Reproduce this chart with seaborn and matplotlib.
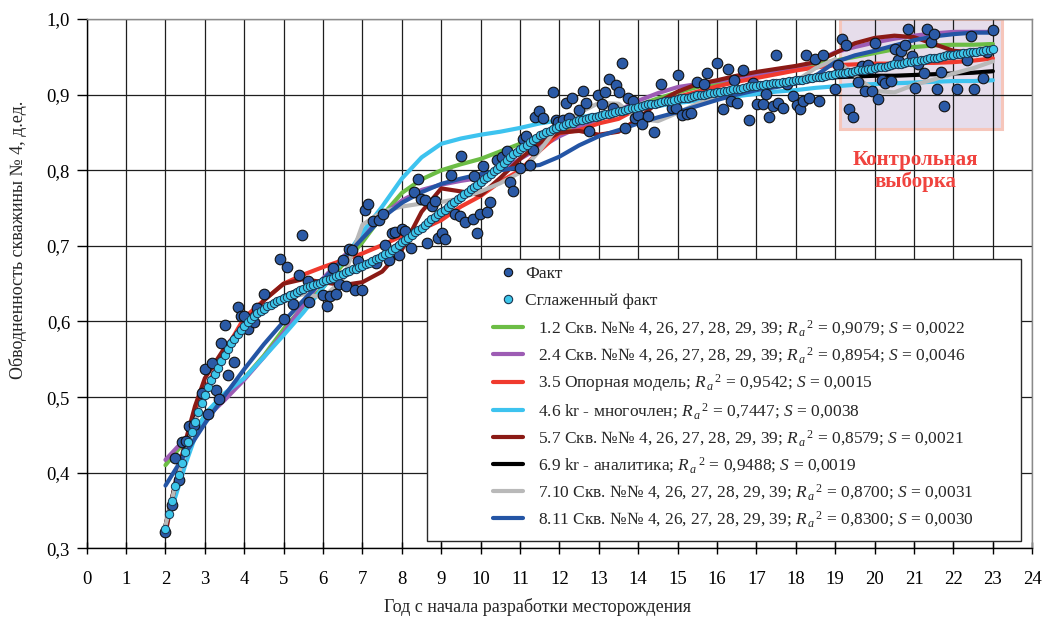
import matplotlib
matplotlib.use("Agg")
import matplotlib.pyplot as plt
from matplotlib.patches import Rectangle
from matplotlib.lines import Line2D
import seaborn as sns

# ---------------- data ----------------
# Measured (monthly) water cut, years since start of field development
fact_year = [
    2.00, 2.17, 2.24, 2.34, 2.42, 2.51, 2.59, 2.72, 2.93, 3.00, 3.08, 3.17, 3.27, 3.35, 3.41,
    3.50, 3.58, 3.75, 3.83, 3.92, 4.00, 4.10, 4.25, 4.33, 4.50, 4.91, 5.00, 5.08, 5.24, 5.40,
    5.47, 5.61, 5.65, 6.00, 6.09, 6.17, 6.25, 6.33, 6.41, 6.50, 6.58, 6.65, 6.74, 6.81, 6.89,
    6.98, 7.06, 7.15, 7.26, 7.34, 7.42, 7.51, 7.58, 7.67, 7.74, 7.82, 7.92, 8.00, 8.08, 8.24,
    8.31, 8.41, 8.49, 8.58, 8.65, 8.77, 8.84, 8.91, 9.01, 9.09, 9.25, 9.34, 9.47, 9.50, 9.59,
    9.80, 9.83, 9.90, 9.98, 10.07, 10.15, 10.24, 10.42, 10.53, 10.66, 10.74, 10.83, 11.00, 11.07, 11.15,
    11.25, 11.34, 11.38, 11.49, 11.57, 11.84, 11.90, 11.97, 12.08, 12.17, 12.25, 12.33, 12.50, 12.59, 12.67,
    12.75, 12.98, 13.07, 13.16, 13.26, 13.35, 13.43, 13.52, 13.58, 13.66, 13.75, 13.86, 13.92, 14.00, 14.09,
    14.25, 14.41, 14.58, 14.85, 14.96, 15.00, 15.10, 15.23, 15.33, 15.48, 15.67, 15.74, 15.99, 16.14, 16.27,
    16.35, 16.43, 16.50, 16.67, 16.81, 16.92, 17.02, 17.17, 17.24, 17.33, 17.43, 17.50, 17.55, 17.67, 17.77,
    17.93, 18.02, 18.10, 18.17, 18.26, 18.34, 18.48, 18.59, 18.68, 18.99, 19.08, 19.16, 19.27, 19.36, 19.44,
    19.58, 19.67, 19.75, 19.84, 19.92, 20.01, 20.09, 20.18, 20.26, 20.41, 20.51, 20.58, 20.66, 20.77, 20.85,
    20.94, 21.02, 21.11, 21.25, 21.32, 21.42, 21.50, 21.59, 21.68, 21.76, 22.08, 22.35, 22.44, 22.52, 22.76,
    22.84, 23.01,
]
fact_value = [
    0.321, 0.357, 0.420, 0.391, 0.441, 0.442, 0.462, 0.463, 0.505, 0.537, 0.478, 0.545, 0.510, 0.497, 0.572,
    0.596, 0.529, 0.546, 0.619, 0.607, 0.607, 0.590, 0.599, 0.618, 0.637, 0.682, 0.603, 0.672, 0.623, 0.661,
    0.714, 0.654, 0.626, 0.635, 0.620, 0.634, 0.671, 0.637, 0.650, 0.681, 0.647, 0.696, 0.694, 0.641, 0.680,
    0.642, 0.747, 0.756, 0.733, 0.677, 0.734, 0.742, 0.701, 0.681, 0.717, 0.718, 0.688, 0.722, 0.720, 0.697,
    0.771, 0.788, 0.762, 0.761, 0.704, 0.753, 0.760, 0.711, 0.717, 0.709, 0.794, 0.742, 0.739, 0.819, 0.731,
    0.735, 0.792, 0.717, 0.742, 0.805, 0.745, 0.758, 0.814, 0.818, 0.825, 0.785, 0.772, 0.803, 0.842, 0.845,
    0.807, 0.827, 0.871, 0.878, 0.869, 0.904, 0.867, 0.864, 0.866, 0.889, 0.869, 0.895, 0.880, 0.905, 0.889,
    0.852, 0.900, 0.888, 0.903, 0.921, 0.883, 0.913, 0.903, 0.942, 0.856, 0.895, 0.892, 0.869, 0.873, 0.861,
    0.872, 0.850, 0.914, 0.883, 0.883, 0.926, 0.873, 0.874, 0.876, 0.917, 0.914, 0.929, 0.942, 0.881, 0.934,
    0.892, 0.919, 0.889, 0.933, 0.867, 0.916, 0.888, 0.888, 0.901, 0.871, 0.885, 0.953, 0.889, 0.883, 0.914,
    0.898, 0.886, 0.881, 0.892, 0.953, 0.895, 0.947, 0.892, 0.952, 0.907, 0.939, 0.973, 0.966, 0.881, 0.871,
    0.917, 0.938, 0.905, 0.939, 0.905, 0.968, 0.894, 0.919, 0.916, 0.918, 0.960, 0.946, 0.958, 0.966, 0.987,
    0.951, 0.909, 0.941, 0.928, 0.987, 0.969, 0.980, 0.907, 0.930, 0.885, 0.908, 0.946, 0.978, 0.907, 0.922,
    0.957, 0.985,
]

# Smoothed water cut, one value per month from year 2 to year 23
smooth_value = [
    0.326, 0.345, 0.363, 0.382, 0.397, 0.413, 0.428, 0.441, 0.454, 0.467, 0.480, 0.492,
    0.503, 0.513, 0.522, 0.530, 0.539, 0.548, 0.556, 0.564, 0.571, 0.577, 0.583, 0.589,
    0.594, 0.599, 0.603, 0.607, 0.611, 0.614, 0.617, 0.620, 0.622, 0.625, 0.627, 0.629,
    0.631, 0.633, 0.635, 0.637, 0.639, 0.641, 0.643, 0.645, 0.647, 0.648, 0.650, 0.651,
    0.653, 0.655, 0.656, 0.658, 0.660, 0.662, 0.663, 0.665, 0.667, 0.669, 0.670, 0.672,
    0.674, 0.676, 0.678, 0.680, 0.682, 0.684, 0.686, 0.689, 0.691, 0.694, 0.697, 0.701,
    0.705, 0.708, 0.711, 0.714, 0.718, 0.721, 0.724, 0.728, 0.731, 0.735, 0.738, 0.742,
    0.745, 0.748, 0.752, 0.755, 0.758, 0.762, 0.765, 0.768, 0.771, 0.775, 0.778, 0.781,
    0.784, 0.788, 0.791, 0.795, 0.799, 0.802, 0.806, 0.810, 0.813, 0.817, 0.821, 0.824,
    0.828, 0.831, 0.834, 0.837, 0.840, 0.843, 0.846, 0.848, 0.850, 0.852, 0.854, 0.856,
    0.858, 0.859, 0.861, 0.862, 0.863, 0.865, 0.866, 0.867, 0.868, 0.869, 0.870, 0.871,
    0.872, 0.873, 0.874, 0.875, 0.876, 0.877, 0.878, 0.879, 0.880, 0.881, 0.882, 0.883,
    0.884, 0.885, 0.886, 0.887, 0.887, 0.888, 0.889, 0.890, 0.891, 0.892, 0.892, 0.893,
    0.894, 0.895, 0.896, 0.896, 0.897, 0.898, 0.899, 0.899, 0.900, 0.901, 0.902, 0.902,
    0.903, 0.904, 0.905, 0.905, 0.906, 0.907, 0.908, 0.908, 0.909, 0.910, 0.911, 0.911,
    0.912, 0.913, 0.913, 0.914, 0.914, 0.915, 0.916, 0.916, 0.917, 0.917, 0.918, 0.918,
    0.919, 0.920, 0.920, 0.921, 0.922, 0.922, 0.923, 0.924, 0.924, 0.925, 0.926, 0.926,
    0.927, 0.928, 0.928, 0.929, 0.930, 0.930, 0.931, 0.932, 0.932, 0.933, 0.934, 0.934,
    0.935, 0.936, 0.937, 0.937, 0.938, 0.939, 0.940, 0.940, 0.941, 0.942, 0.943, 0.943,
    0.944, 0.945, 0.946, 0.946, 0.947, 0.948, 0.949, 0.949, 0.950, 0.951, 0.952, 0.952,
    0.953, 0.954, 0.954, 0.955, 0.955, 0.956, 0.957, 0.957, 0.958, 0.958, 0.959, 0.959,
    0.960,
]
smooth_year = [2 + m / 12 for m in range(len(smooth_value))]

# Model curves, sampled on a common time axis
model_year = [2.0, 2.25, 2.5, 2.75, 3.0, 3.5, 4.0, 4.5, 5.0, 5.5, 6.0, 6.5, 7.0, 7.5, 8.0,
              8.5, 9.0, 9.5, 10.0, 10.5, 11.0, 11.5, 12.0, 12.5, 13.0, 13.5, 14.0, 14.5, 15.0,
              15.5, 16.0, 16.5, 17.0, 17.5, 18.0, 18.5, 19.0, 19.5, 20.0, 20.5, 21.0, 21.5,
              22.0, 22.5, 23.0]

model_1_2 = [0.410, 0.426, 0.442, 0.458, 0.475, 0.500, 0.525, 0.555, 0.590, 0.620, 0.645,
             0.675, 0.705, 0.740, 0.770, 0.788, 0.800, 0.808, 0.815, 0.825, 0.835, 0.844,
             0.851, 0.859, 0.868, 0.877, 0.886, 0.895, 0.903, 0.910, 0.915, 0.920, 0.925,
             0.930, 0.935, 0.940, 0.945, 0.950, 0.955, 0.960, 0.963, 0.965, 0.966, 0.966, 0.967]
model_2_4 = [0.417, 0.431, 0.445, 0.458, 0.471, 0.496, 0.523, 0.553, 0.585, 0.622, 0.657,
             0.685, 0.712, 0.740, 0.760, 0.774, 0.781, 0.786, 0.790, 0.800, 0.815, 0.830,
             0.845, 0.857, 0.868, 0.879, 0.892, 0.902, 0.910, 0.914, 0.918, 0.921, 0.925,
             0.929, 0.934, 0.944, 0.956, 0.963, 0.969, 0.974, 0.978, 0.981, 0.983, 0.983, 0.983]
model_3_5 = [0.330, 0.385, 0.437, 0.478, 0.510, 0.560, 0.605, 0.628, 0.650, 0.662, 0.672,
             0.681, 0.690, 0.701, 0.713, 0.722, 0.734, 0.752, 0.766, 0.785, 0.800, 0.826,
             0.849, 0.853, 0.862, 0.868, 0.882, 0.890, 0.897, 0.904, 0.911, 0.917, 0.922,
             0.927, 0.932, 0.936, 0.939, 0.940, 0.941, 0.941, 0.942, 0.942, 0.943, 0.945, 0.948]
model_4_6 = [0.330, 0.368, 0.410, 0.447, 0.478, 0.505, 0.525, 0.553, 0.582, 0.612, 0.645,
             0.680, 0.718, 0.752, 0.789, 0.817, 0.835, 0.842, 0.847, 0.851, 0.856, 0.862,
             0.866, 0.870, 0.874, 0.877, 0.881, 0.885, 0.889, 0.892, 0.895, 0.898, 0.901,
             0.904, 0.906, 0.909, 0.911, 0.913, 0.914, 0.915, 0.916, 0.917, 0.918, 0.918, 0.919]
model_5_7 = [0.320, 0.385, 0.440, 0.488, 0.525, 0.565, 0.597, 0.628, 0.650, 0.656, 0.652,
             0.648, 0.652, 0.666, 0.695, 0.745, 0.776, 0.772, 0.767, 0.790, 0.815, 0.836,
             0.850, 0.852, 0.847, 0.851, 0.868, 0.890, 0.904, 0.914, 0.919, 0.925, 0.930,
             0.934, 0.938, 0.943, 0.955, 0.968, 0.975, 0.978, 0.976, 0.967, 0.958, 0.956, 0.956]
model_6_9 = [0.330, 0.385, 0.432, 0.470, 0.503, 0.556, 0.595, 0.618, 0.633, 0.645, 0.655,
             0.664, 0.675, 0.688, 0.706, 0.725, 0.745, 0.765, 0.785, 0.807, 0.829, 0.845,
             0.857, 0.865, 0.872, 0.878, 0.883, 0.888, 0.893, 0.898, 0.902, 0.906, 0.910,
             0.914, 0.917, 0.920, 0.923, 0.924, 0.925, 0.925, 0.926, 0.927, 0.928, 0.929, 0.931]
model_7_10 = [0.330, 0.383, 0.428, 0.467, 0.503, 0.556, 0.592, 0.615, 0.630, 0.636, 0.632,
              0.655, 0.728, 0.745, 0.752, 0.756, 0.758, 0.763, 0.772, 0.783, 0.797, 0.826,
              0.860, 0.876, 0.889, 0.888, 0.868, 0.865, 0.876, 0.888, 0.897, 0.903, 0.908,
              0.912, 0.918, 0.935, 0.947, 0.925, 0.905, 0.903, 0.913, 0.920, 0.928, 0.935, 0.944]
model_8_11 = [0.383, 0.404, 0.425, 0.445, 0.465, 0.502, 0.537, 0.570, 0.600, 0.628, 0.655,
              0.682, 0.710, 0.737, 0.757, 0.771, 0.782, 0.789, 0.795, 0.800, 0.804, 0.807,
              0.818, 0.833, 0.845, 0.853, 0.862, 0.870, 0.877, 0.885, 0.893, 0.900, 0.906,
              0.910, 0.915, 0.925, 0.943, 0.952, 0.958, 0.965, 0.972, 0.977, 0.980, 0.982, 0.982]

RA2 = r"$R_{\,a}{}^{\,2}$"
model_labels = [
    "1.2 Скв. №№ 4, 26, 27, 28, 29, 39; " + RA2 + " = 0,9079; $S$ = 0,0022",
    "2.4 Скв. №№ 4, 26, 27, 28, 29, 39; " + RA2 + " = 0,8954; $S$ = 0,0046",
    "3.5 Опорная модель; " + RA2 + " = 0,9542; $S$ = 0,0015",
    "4.6 kr - многочлен; " + RA2 + " = 0,7447; $S$ = 0,0038",
    "5.7 Скв. №№ 4, 26, 27, 28, 29, 39; " + RA2 + " = 0,8579; $S$ = 0,0021",
    "6.9 kr - аналитика; " + RA2 + " = 0,9488; $S$ = 0,0019",
    "7.10 Скв. №№ 4, 26, 27, 28, 29, 39; " + RA2 + " = 0,8700; $S$ = 0,0031",
    "8.11 Скв. №№ 4, 26, 27, 28, 29, 39; " + RA2 + " = 0,8300; $S$ = 0,0030",
]
model_values = [model_1_2, model_2_4, model_3_5, model_4_6,
                model_5_7, model_6_9, model_7_10, model_8_11]
model_colors = ["#6cbd45", "#9d5cb4", "#f03a2e", "#3dc3ef",
                "#8b1a15", "#000000", "#b9b9b9", "#2455a5"]

x_ticks = list(range(0, 25))
y_ticks = [0.3, 0.4, 0.5, 0.6, 0.7, 0.8, 0.9, 1.0]
y_tick_labels = ["0,3", "0,4", "0,5", "0,6", "0,7", "0,8", "0,9", "1,0"]

# control sample window (years, water cut)
control_x = (19.12, 23.22)
control_y = (0.855, 1.0)

# ---------------- style ----------------
sns.set_theme(style="white")
plt.rcParams["font.family"] = ["Liberation Serif", "DejaVu Serif"]
plt.rcParams["mathtext.fontset"] = "custom"
plt.rcParams["mathtext.rm"] = "Liberation Serif"
plt.rcParams["mathtext.it"] = "Liberation Serif:italic"
plt.rcParams["mathtext.bf"] = "Liberation Serif:bold"

FACT_COLOR = "#2b5aa6"
SMOOTH_COLOR = "#3cc6ea"
LEGEND_FS = 12.5

fig = plt.figure(figsize=(10.43, 6.2), dpi=100)
ax = fig.add_axes([0.0831, 0.1156, 0.9066, 0.8537])

# control sample shading
ax.add_patch(Rectangle((control_x[0], control_y[0]), control_x[1] - control_x[0],
                       control_y[1] - control_y[0], facecolor="#e6ddeb",
                       edgecolor="#f6c6bb", lw=2.2, zorder=0.3))

# model curves
for vals, col in zip(model_values, model_colors):
    sns.lineplot(x=model_year, y=vals, color=col, lw=3, ax=ax, zorder=2,
                 legend=False, errorbar=None)

# measured and smoothed water cut
sns.scatterplot(x=fact_year, y=fact_value, s=58, color=FACT_COLOR, edgecolor="#111111",
                linewidth=0.8, ax=ax, zorder=3, legend=False)
sns.scatterplot(x=smooth_year, y=smooth_value, s=36, color=SMOOTH_COLOR, edgecolor="#1b3550",
                linewidth=0.7, ax=ax, zorder=4, legend=False)

ax.text(21.04, 0.799, "Контрольная\nвыборка", ha="center", va="center",
        color="#f0433e", fontsize=15, fontweight="bold", linespacing=1.1, zorder=4)

# axes
ax.set_xlim(0, 24)
ax.set_ylim(0.3, 1.0)
ax.set_xticks(x_ticks)
ax.set_xticklabels([str(v) for v in x_ticks])
ax.set_yticks(y_ticks)
ax.set_yticklabels(y_tick_labels)
ax.set_axisbelow(True)
ax.grid(True, color="#1e1e1e", lw=0.9)
ax.tick_params(axis="x", bottom=True, direction="inout", length=9, width=1, pad=12,
               labelsize=13.5, colors="black")
ax.tick_params(axis="y", left=True, direction="out", length=7, width=1, pad=5,
               labelsize=13.5, colors="black")
for side in ("left", "bottom"):
    ax.spines[side].set_color("black")
    ax.spines[side].set_linewidth(1.0)
for side in ("top", "right"):
    ax.spines[side].set_color("#8a8a8a")
    ax.spines[side].set_linewidth(1.0)
ax.set_xlabel("")
ax.set_ylabel("")

fig.text(537 / 1043, 1 - 607 / 620, "Год с начала разработки месторождения",
         ha="center", va="center", fontsize=13)
fig.text(18 / 1043, 1 - 240 / 620, "Обводненность скважины № 4, д.ед.",
         ha="center", va="center", rotation=90, fontsize=13)

# legend panel
ax.add_patch(Rectangle((0.3602, 0.0138), 0.6278, 0.5322, transform=ax.transAxes,
                       facecolor="white", edgecolor="#2a2a2a", lw=1.0, zorder=5))

marker_handles = [
    Line2D([], [], ls="none", marker="o", markersize=6, markerfacecolor=FACT_COLOR,
           markeredgecolor="#111111", markeredgewidth=0.8),
    Line2D([], [], ls="none", marker="o", markersize=6, markerfacecolor=SMOOTH_COLOR,
           markeredgecolor="#1b3550", markeredgewidth=0.8),
]
leg1 = ax.legend(marker_handles, ["Факт", "Сглаженный факт"], loc="upper left",
                 bbox_to_anchor=(493 / 1043, 1 - 266 / 620), bbox_transform=fig.transFigure,
                 frameon=False, fontsize=LEGEND_FS, handlelength=1.73, handletextpad=0.12,
                 borderpad=0, borderaxespad=0, labelspacing=0.62)
leg1.set_zorder(6)
ax.add_artist(leg1)

line_handles = [Line2D([], [], color=c, lw=3) for c in model_colors]
leg2 = ax.legend(line_handles, model_labels, loc="upper left",
                 bbox_to_anchor=(493 / 1043, 1 - 318 / 620), bbox_transform=fig.transFigure,
                 frameon=False, fontsize=LEGEND_FS, handlelength=1.73, handletextpad=0.86,
                 borderpad=0, borderaxespad=0, labelspacing=0.42)
leg2.set_zorder(6)

fig.savefig("out.png", dpi=100)
